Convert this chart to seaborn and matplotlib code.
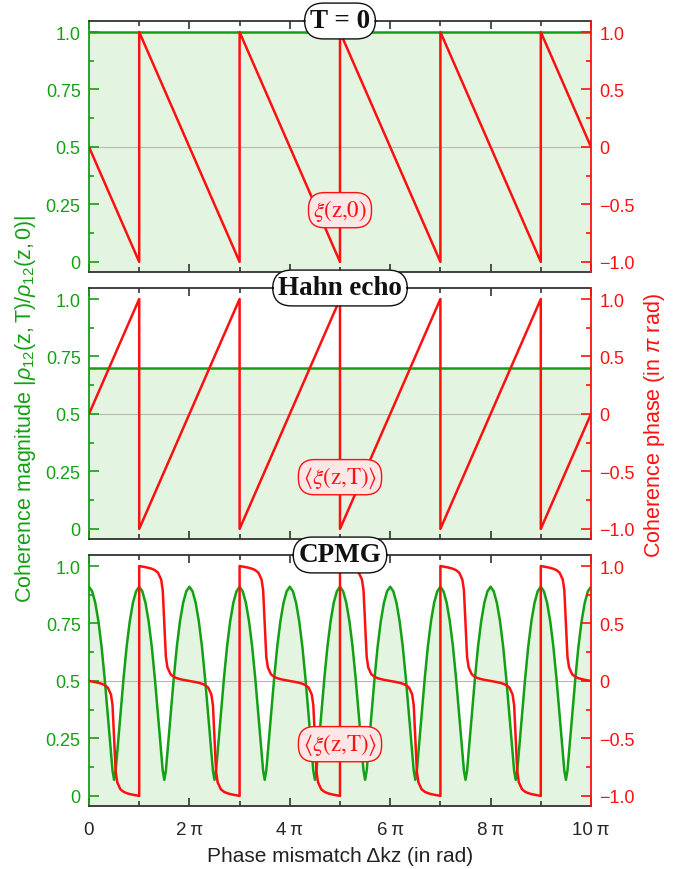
import numpy as np
import pandas as pd
import seaborn as sns
import matplotlib
matplotlib.use('Agg')
import matplotlib.pyplot as plt
from matplotlib.ticker import MultipleLocator

sns.set_style('ticks')
plt.rcParams['font.family'] = ['Liberation Sans', 'DejaVu Sans']
plt.rcParams['mathtext.fontset'] = 'custom'
plt.rcParams['mathtext.rm'] = 'Liberation Sans'
plt.rcParams['mathtext.it'] = 'Liberation Sans:italic'

green = '#14a014'
red = '#ff1010'
fill_green = '#e3f4e0'
spine_gray = '#333333'

# x values are in units of pi
x_saw = [0, 1, 1, 3, 3, 5, 5, 7, 7, 9, 9, 10]
phase_t0 = [0, -1, 1, -1, 1, -1, 1, -1, 1, -1, 1, 0]
phase_hahn = [0, 1, -1, 1, -1, 1, -1, 1, -1, 1, -1, 0]
x_flat = [0, 10]
mag_t0 = [1.0, 1.0]
mag_hahn = [0.70, 0.70]

# CPMG, one 2*pi period (repeats 5 times)
cpmg_x = [0, 0.0625, 0.125, 0.1875, 0.25, 0.3125, 0.375, 0.4375, 0.46875, 0.5,
          0.53125, 0.5625, 0.625, 0.6875, 0.75, 0.8125, 0.875, 0.9375, 1.0,
          1.0, 1.0625, 1.125, 1.1875, 1.25, 1.3125, 1.375, 1.4375, 1.46875, 1.5,
          1.53125, 1.5625, 1.625, 1.6875, 1.75, 1.8125, 1.875, 1.9375]
cpmg_mag = [.91, .89, .84, .76, .65, .51, .35, .19, .11, .07,
            .11, .19, .35, .51, .65, .76, .84, .89, .91,
            .91, .89, .84, .76, .65, .51, .35, .19, .11, .07,
            .11, .19, .35, .51, .65, .76, .84, .89]
cpmg_phase = [0, -.005, -.010, -.016, -.024, -.036, -.058, -.118, -.211, -.5,
              -.789, -.882, -.942, -.964, -.976, -.984, -.990, -.995, -1.0,
              1.0, .995, .990, .984, .976, .964, .942, .882, .789, .5,
              .211, .118, .058, .036, .024, .016, .010, .005]
n_periods = 5

xt_pos = [0, 2, 4, 6, 8, 10]
xt_labels = ['0', '2\u2009π', '4\u2009π', '6\u2009π', '8\u2009π', '10\u2009π']
yl_ticks = [0, 0.25, 0.5, 0.75, 1.0]
yl_labels = ['0', '0.25', '0.5', '0.75', '1.0']
yr_ticks = [-1, -0.5, 0, 0.5, 1]
yr_labels = ['\u22121.0', '\u22120.5', '0', '0.5', '1.0']

titles = ['T = 0', 'Hahn echo', 'CPMG']
phase_labels = [r'$\xi(\mathrm{z{,}0})$', r'$\langle\xi(\mathrm{z{,}T})\rangle$',
                r'$\langle\xi(\mathrm{z{,}T})\rangle$']

cx = np.concatenate([np.array(cpmg_x) + 2 * k for k in range(n_periods)] + [[10]])
cm = np.concatenate([cpmg_mag] * n_periods + [[cpmg_mag[0]]])
cp = np.concatenate([cpmg_phase] * n_periods + [[cpmg_phase[0]]])

panels = [
    (pd.DataFrame({'x': x_flat, 'm': mag_t0}), pd.DataFrame({'x': x_saw, 'p': phase_t0})),
    (pd.DataFrame({'x': x_flat, 'm': mag_hahn}), pd.DataFrame({'x': x_saw, 'p': phase_hahn})),
    (pd.DataFrame({'x': cx, 'm': cm}), pd.DataFrame({'x': cx, 'p': cp})),
]

fig = plt.figure(figsize=(6.78, 8.70), dpi=100)
left, width, height = 89 / 678, 502 / 678, 251 / 870
bottoms = [1 - 273 / 870, 1 - 540 / 870, 1 - 807 / 870]
ylo, yhi = -0.044, 1.048

for i, (mag_df, ph_df) in enumerate(panels):
    ax = fig.add_axes([left, bottoms[i], width, height])
    ax.fill_between(mag_df['x'], -1, mag_df['m'], color=fill_green, lw=0, zorder=0)
    ax.axhline(0.5, color='#b8b8b8', lw=0.8, zorder=0.5)
    sns.lineplot(data=mag_df, x='x', y='m', ax=ax, color=green, lw=1.8,
                 estimator=None, sort=False)
    ax.set_xlim(0, 10)
    ax.set_ylim(ylo, yhi)
    ax.set_xlabel('')
    ax.set_ylabel('')
    ax.set_yticks(yl_ticks)
    ax.set_yticklabels(yl_labels)
    ax.yaxis.set_minor_locator(MultipleLocator(0.125))
    ax.set_xticks(xt_pos)
    ax.xaxis.set_minor_locator(MultipleLocator(1))
    if i == 2:
        ax.set_xticklabels(xt_labels)
    else:
        ax.set_xticklabels([])
    ax.tick_params(axis='y', which='both', direction='in', colors=green,
                   labelsize=13, pad=6, width=1.2)
    ax.tick_params(axis='y', which='major', length=7)
    ax.tick_params(axis='y', which='minor', length=3.5)
    ax.tick_params(axis='x', which='both', direction='in', top=True, bottom=True,
                   color=spine_gray, labelsize=13.5, pad=11, width=1.2)
    ax.tick_params(axis='x', which='major', length=6)
    ax.tick_params(axis='x', which='minor', length=3.5)
    ax.spines['left'].set_color(green)
    ax.spines['right'].set_visible(False)
    for s in ['top', 'bottom']:
        ax.spines[s].set_color(spine_gray)
    for s in ['left', 'top', 'bottom']:
        ax.spines[s].set_linewidth(1.3)

    ax2 = ax.twinx()
    sns.lineplot(data=ph_df, x='x', y='p', ax=ax2, color=red, lw=1.8,
                 estimator=None, sort=False)
    ax2.set_ylim(2 * ylo - 1, 2 * yhi - 1)
    ax2.set_ylabel('')
    ax2.set_yticks(yr_ticks)
    ax2.set_yticklabels(yr_labels)
    ax2.yaxis.set_minor_locator(MultipleLocator(0.25))
    ax2.tick_params(axis='y', which='both', direction='in', colors=red,
                    labelsize=13, pad=6, width=1.2)
    ax2.tick_params(axis='y', which='major', length=7)
    ax2.tick_params(axis='y', which='minor', length=3.5)
    for s in ['left', 'top', 'bottom']:
        ax2.spines[s].set_visible(False)
    ax2.spines['right'].set_color(red)
    ax2.spines['right'].set_linewidth(1.3)

    ax2.text(0.5, 1.0, titles[i], transform=ax2.transAxes, ha='center', va='center',
             fontsize=19.5, fontweight='bold', family='Liberation Serif', color='#111111',
             zorder=10, clip_on=False,
             bbox=dict(boxstyle='round,pad=0.2,rounding_size=0.7', fc='white',
                       ec='#111111', lw=1.0))
    ax2.text(5, -0.55, phase_labels[i], ha='center', va='center', fontsize=16.5,
             color=red, math_fontfamily='stix', zorder=10,
             bbox=dict(boxstyle='round,pad=0.2,rounding_size=0.7', fc='#fde6e6',
                       ec=red, lw=1.0))

fig.text(0.038, 0.53, r'Coherence magnitude $|\rho_{12}(\mathrm{z,T})/\rho_{12}(\mathrm{z,0})|$',
         rotation=90, ha='center', va='center', color=green, fontsize=15.5)
fig.text(0.966, 0.511, r'Coherence phase (in $\pi$ rad)', rotation=90,
         ha='center', va='center', color=red, fontsize=15.5)
fig.text(0.5015, 0.015, 'Phase mismatch \u0394kz (in rad)', ha='center', va='center',
         color='#222222', fontsize=15)

plt.savefig('out.png', dpi=100)
